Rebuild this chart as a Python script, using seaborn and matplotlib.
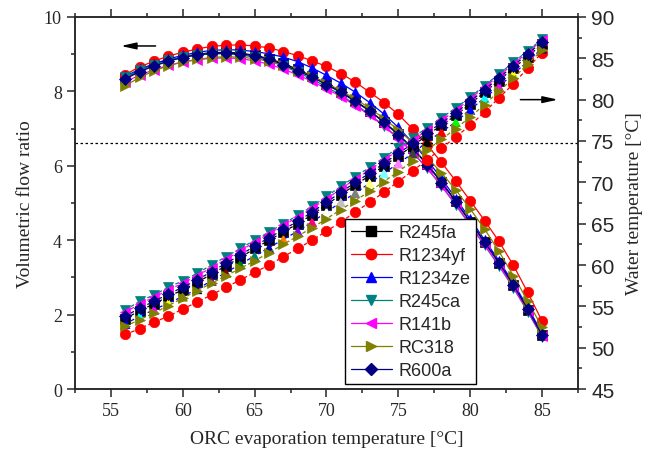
import matplotlib
matplotlib.use("Agg")
import matplotlib.pyplot as plt
import seaborn as sns
from matplotlib.ticker import MultipleLocator
from matplotlib.lines import Line2D

# ORC evaporation temperature [°C]
evap_temp = [56, 57, 58, 59, 60, 61, 62, 63, 64, 65, 66, 67, 68, 69, 70,
             71, 72, 73, 74, 75, 76, 77, 78, 79, 80, 81, 82, 83, 84, 85]

fluids = ["R245fa", "R1234yf", "R1234ze", "R245ca", "R141b", "RC318", "R600a"]

# volumetric flow ratio (left axis)
flow_r245fa = [8.36, 8.56, 8.71, 8.83, 8.93, 9.00, 9.04, 9.05, 9.03, 8.97, 8.88, 8.75, 8.59, 8.41, 8.21,
               7.99, 7.75, 7.48, 7.18, 6.85, 6.47, 6.05, 5.57, 5.05, 4.50, 3.95, 3.39, 2.79, 2.13, 1.44]
flow_r1234yf = [8.45, 8.66, 8.81, 8.95, 9.05, 9.14, 9.21, 9.24, 9.25, 9.22, 9.17, 9.07, 8.96, 8.82, 8.67,
                8.48, 8.25, 7.98, 7.70, 7.38, 6.99, 6.56, 6.09, 5.59, 5.06, 4.53, 3.97, 3.33, 2.60, 1.83]
flow_r1234ze = [8.40, 8.60, 8.74, 8.87, 8.97, 9.05, 9.10, 9.12, 9.11, 9.07, 9.01, 8.92, 8.80, 8.63, 8.43,
                8.22, 7.98, 7.70, 7.39, 7.03, 6.62, 6.16, 5.66, 5.12, 4.57, 4.01, 3.45, 2.85, 2.20, 1.50]
flow_r245ca = [8.38, 8.57, 8.71, 8.83, 8.92, 8.98, 9.01, 9.01, 8.98, 8.92, 8.82, 8.68, 8.51, 8.33, 8.12,
               7.90, 7.65, 7.38, 7.08, 6.74, 6.36, 5.93, 5.46, 4.94, 4.40, 3.86, 3.31, 2.72, 2.08, 1.40]
flow_r141b = [8.25, 8.44, 8.58, 8.70, 8.79, 8.85, 8.89, 8.90, 8.88, 8.82, 8.73, 8.60, 8.44, 8.27, 8.07,
              7.86, 7.62, 7.36, 7.06, 6.73, 6.36, 5.94, 5.47, 4.96, 4.42, 3.88, 3.33, 2.74, 2.10, 1.42]
flow_rc318 = [8.15, 8.38, 8.55, 8.69, 8.79, 8.86, 8.91, 8.93, 8.92, 8.88, 8.81, 8.70, 8.55, 8.40, 8.22,
              8.02, 7.80, 7.55, 7.27, 6.96, 6.62, 6.23, 5.81, 5.35, 4.84, 4.30, 3.70, 3.05, 2.37, 1.66]
flow_r600a = [8.33, 8.53, 8.68, 8.81, 8.91, 8.98, 9.02, 9.03, 9.01, 8.95, 8.86, 8.72, 8.55, 8.38, 8.18,
              7.97, 7.73, 7.47, 7.17, 6.83, 6.46, 6.03, 5.55, 5.03, 4.49, 3.95, 3.40, 2.80, 2.15, 1.45]

# water temperature [°C] (right axis)
water_r245fa = [53.5, 54.5, 55.3, 56.2, 57.0, 57.9, 58.9, 59.9, 60.9, 62.0, 63.0, 64.0, 65.0, 66.1, 67.3,
                68.5, 69.7, 70.8, 72.0, 73.2, 74.4, 75.7, 76.9, 78.1, 79.5, 80.9, 82.3, 83.8, 85.2, 86.7]
water_r1234yf = [51.6, 52.3, 53.1, 53.8, 54.7, 55.5, 56.4, 57.3, 58.2, 59.1, 60.0, 61.0, 62.0, 63.0, 64.1,
                 65.2, 66.4, 67.6, 68.8, 70.1, 71.4, 72.7, 74.1, 75.5, 76.9, 78.5, 80.2, 81.9, 83.8, 85.7]
water_r1234ze = [52.9, 53.8, 54.6, 55.4, 56.2, 57.1, 58.1, 59.1, 60.1, 61.1, 62.1, 63.1, 64.1, 65.2, 66.4,
                 67.6, 68.7, 69.9, 71.1, 72.3, 73.5, 74.9, 76.1, 77.3, 78.8, 80.2, 81.6, 83.1, 84.6, 86.2]
water_r245ca = [54.6, 55.6, 56.4, 57.3, 58.1, 59.0, 60.0, 61.0, 62.0, 63.0, 64.0, 65.0, 66.0, 67.1, 68.3,
                69.5, 70.7, 71.8, 73.0, 74.2, 75.4, 76.6, 77.8, 79.0, 80.3, 81.7, 83.1, 84.5, 85.9, 87.3]
water_r141b = [54.3, 55.3, 56.1, 57.0, 57.8, 58.7, 59.7, 60.7, 61.7, 62.8, 63.8, 64.8, 65.8, 66.9, 68.0,
               69.2, 70.4, 71.5, 72.7, 73.9, 75.1, 76.3, 77.5, 78.7, 80.1, 81.5, 82.9, 84.3, 85.7, 87.2]
water_rc318 = [52.6, 53.4, 54.2, 55.1, 56.0, 56.9, 57.8, 58.7, 59.6, 60.5, 61.5, 62.5, 63.5, 64.5, 65.6,
               66.7, 67.8, 68.9, 70.1, 71.3, 72.6, 73.9, 75.2, 76.5, 77.9, 79.4, 81.0, 82.6, 84.3, 86.0]
water_r600a = [53.8, 54.8, 55.6, 56.5, 57.3, 58.2, 59.2, 60.2, 61.2, 62.3, 63.3, 64.3, 65.3, 66.4, 67.6,
               68.8, 70.0, 71.1, 72.3, 73.5, 74.7, 76.0, 77.2, 78.4, 79.8, 81.2, 82.6, 84.1, 85.5, 87.0]

flows = [flow_r245fa, flow_r1234yf, flow_r1234ze, flow_r245ca, flow_r141b, flow_rc318, flow_r600a]
waters = [water_r245fa, water_r1234yf, water_r1234ze, water_r245ca, water_r141b, water_rc318, water_r600a]

colors = ["#000000", "#FF0000", "#0000FF", "#008080", "#FF00FF", "#808000", "#000080"]
markers = ["s", "o", "^", "v", "<", ">", "D"]
msizes = [6.5, 7.5, 7.5, 7.5, 7.5, 7.5, 6.5]

# R1234ze water-temperature symbols use incremented colours (Origin list)
origin_colors = {
    "Black": "#000000", "Red": "#FF0000", "Green": "#00FF00", "Blue": "#0000FF",
    "Cyan": "#00FFFF", "Magenta": "#FF00FF", "Yellow": "#FFFF00", "Dark Yellow": "#808000",
    "Navy": "#000080", "Purple": "#800080", "Wine": "#800000", "Olive": "#008000",
    "Dark Cyan": "#008080", "Royal": "#0000A0", "Orange": "#FF8000", "Violet": "#8000FF",
    "Pink": "#FF0080", "White": "#FFFFFF", "LT Gray": "#C0C0C0", "Gray": "#808080",
    "LT Yellow": "#FFFF80", "LT Cyan": "#80FFFF", "LT Magenta": "#FF80FF", "Dark Gray": "#404040",
}
ze_marker_colors = ["Blue", "Cyan", "Magenta", "Yellow", "Dark Yellow", "Navy", "Purple", "Wine",
                    "Olive", "Dark Cyan", "Royal", "Orange", "Violet", "Pink", "White", "LT Gray",
                    "Gray", "LT Yellow", "LT Cyan", "LT Magenta", "Dark Gray", "Black", "Red", "Green",
                    "Blue", "Cyan", "Magenta", "Yellow", "Dark Yellow", "Navy"]

sns.set_style("ticks")
plt.rcParams["font.family"] = ["Liberation Serif", "DejaVu Sans"]
plt.rcParams["axes.linewidth"] = 1.1

fig = plt.figure(figsize=(6.5, 4.6), dpi=100)
ax = fig.add_axes([0.1154, 0.152, 0.7738, 0.809])
ax2 = ax.twinx()

for fl, c, m, ms in zip(flows, colors, markers, msizes):
    sns.lineplot(x=evap_temp, y=fl, ax=ax, color=c, marker=m, markersize=ms,
                 markeredgecolor=c, markeredgewidth=0.5, linewidth=0.9, zorder=2)

for i, (wt, c, m, ms) in enumerate(zip(waters, colors, markers, msizes)):
    if i == 2:
        sns.lineplot(x=evap_temp, y=wt, ax=ax2, color=c, linewidth=0.9,
                     linestyle=(0, (3, 2)), zorder=2)
        sns.scatterplot(x=evap_temp, y=wt, hue=ze_marker_colors, palette=origin_colors,
                        marker="^", s=55, linewidth=0, ax=ax2, legend=False, zorder=2)
    else:
        sns.lineplot(x=evap_temp, y=wt, ax=ax2, color=c, marker=m, markersize=ms,
                     markeredgecolor=c, markeredgewidth=0.5, linewidth=0.9,
                     linestyle=(0, (3, 2)), zorder=2)

ax2.axhline(74.8, color="black", linewidth=0.9, linestyle=(0, (2, 2)), zorder=1)

# direction arrows
ax.annotate("", xy=(55.5, 9.22), xytext=(58.3, 9.22),
            arrowprops=dict(arrowstyle="-|>,head_length=0.9,head_width=0.2",
                            color="black", lw=1.1))
ax2.annotate("", xy=(86.3, 80.0), xytext=(83.3, 80.0),
             arrowprops=dict(arrowstyle="-|>,head_length=0.9,head_width=0.2",
                             color="black", lw=1.1))

ax.set_xlim(52.5, 87.5)
ax.set_ylim(0, 10)
ax2.set_ylim(45, 90)
ax.set_xticks([55, 60, 65, 70, 75, 80, 85])
ax.set_yticks([0, 2, 4, 6, 8, 10])
ax2.set_yticks([45, 50, 55, 60, 65, 70, 75, 80, 85, 90])
ax.xaxis.set_minor_locator(MultipleLocator(2.5))
ax.yaxis.set_minor_locator(MultipleLocator(1))
ax2.yaxis.set_minor_locator(MultipleLocator(2.5))

ax.tick_params(axis="both", which="major", direction="out", length=6, width=1.1,
               labelsize=13, top=True, labeltop=False)
ax.tick_params(axis="both", which="minor", direction="out", length=3, width=1.1, top=True)
ax2.tick_params(axis="y", which="major", direction="out", length=6, width=1.1, labelsize=15)
ax2.tick_params(axis="y", which="minor", direction="out", length=3, width=1.1)
for lab in ax2.get_yticklabels():
    lab.set_fontfamily("Liberation Sans")

ax.set_xlabel("ORC evaporation temperature [°C]", fontsize=14, labelpad=8)
ax.set_ylabel("Volumetric flow ratio", fontsize=14, labelpad=7)
ax2.set_ylabel("Water temperature [°C]", fontsize=14, labelpad=8)

for sp in ax2.spines.values():
    sp.set_linewidth(1.1)

if ax.get_legend() is not None:
    ax.get_legend().remove()

handles = [Line2D([], [], color=c, marker=m, markersize=ms, markeredgecolor=c, linewidth=0.9)
           for c, m, ms in zip(colors, markers, msizes)]
leg = ax2.legend(handles, fluids, loc="lower left", bbox_to_anchor=(0.537, 0.013),
                 borderaxespad=0, frameon=True, fancybox=False, framealpha=1,
                 edgecolor="black", handlelength=2.3, handletextpad=0.35,
                 labelspacing=0.33, borderpad=0.3,
                 prop={"family": "Liberation Sans", "size": 13})
leg.get_frame().set_linewidth(1.0)

fig.savefig("out.png", dpi=100)
